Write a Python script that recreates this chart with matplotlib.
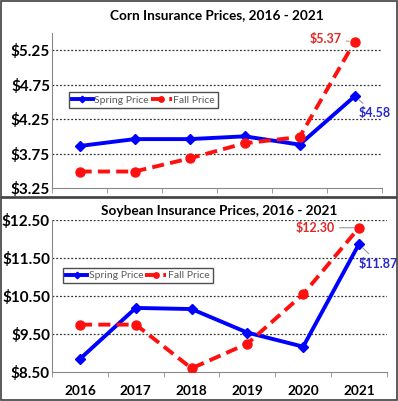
import matplotlib
matplotlib.use("Agg")
import matplotlib.pyplot as plt
from matplotlib.patches import Rectangle

years = ["2016", "2017", "2018", "2019", "2020", "2021"]
corn_spring = [3.86, 3.96, 3.96, 4.00, 3.88, 4.58]
corn_fall = [3.49, 3.49, 3.68, 3.90, 3.99, 5.37]
soy_spring = [8.85, 10.19, 10.16, 9.54, 9.17, 11.87]
soy_fall = [9.75, 9.75, 8.60, 9.25, 10.55, 12.30]
corn_ticks = [3.25, 3.75, 4.25, 4.75, 5.25]
soy_ticks = [8.50, 9.50, 10.50, 11.50, 12.50]

plt.rcParams['font.family'] = ['Lato', 'DejaVu Sans']

BLUE = "#0000FF"
RED = "#FF1010"

fig = plt.figure(figsize=(3.98, 4.01), dpi=100)
fig.patch.set_facecolor("white")

# panel borders
fig.patches.append(Rectangle((0.003, 0.508), 0.994, 0.489, transform=fig.transFigure,
                             fill=False, edgecolor="#404040", lw=1.2))
fig.patches.append(Rectangle((0.003, 0.003), 0.994, 0.503, transform=fig.transFigure,
                             fill=False, edgecolor="#404040", lw=1.2))

ax1 = fig.add_axes([0.131, 0.531, 0.829, 0.387])
ax2 = fig.add_axes([0.131, 0.072, 0.841, 0.379])

x = list(range(len(years)))

def style(ax, ticks, ylim, show_x):
    ax.set_xlim(-0.5, len(years) - 0.5)
    ax.set_ylim(*ylim)
    ax.set_yticks(ticks)
    ax.set_yticklabels([f"${t:.2f}" for t in ticks], fontweight="bold", fontsize=11)
    for t in ticks[1:]:
        ax.axhline(t, color="#333333", lw=0.9, ls=(0, (1.5, 1.5)), zorder=1)
    for s in ["top", "right"]:
        ax.spines[s].set_visible(False)
    ax.spines["left"].set_color("#888888")
    ax.spines["bottom"].set_color("#888888")
    ax.tick_params(axis="y", length=0, pad=1.5)
    ax.set_xticks([i - 0.5 for i in range(len(years) + 1)], minor=True)
    ax.tick_params(axis="x", which="minor", length=3.5, color="#888888")
    ax.set_xticks(x)
    ax.tick_params(axis="x", which="major", length=0, pad=9)
    if show_x:
        ax.set_xticklabels(years, fontweight="bold", fontsize=9.8)
    else:
        ax.set_xticklabels([])

style(ax1, corn_ticks, (3.25, 5.5), False)
style(ax2, soy_ticks, (8.5, 12.5), True)

for ax, sp, fa in [(ax1, corn_spring, corn_fall), (ax2, soy_spring, soy_fall)]:
    ax.plot(x, sp, color=BLUE, lw=2.8, marker="D", ms=5.5, label="Spring Price", zorder=3)
    ax.plot(x, fa, color=RED, lw=2.8, ls=(0, (3.1, 1.6)), marker="o", ms=6.5, label="Fall Price", zorder=3)

ax1.set_title("Corn Insurance Prices, 2016 - 2021", fontweight="bold", fontsize=9.8, pad=10)
ax2.set_title("Soybean Insurance Prices, 2016 - 2021", fontweight="bold", fontsize=9.8, pad=4)

leg_kw = dict(frameon=True, fancybox=False, edgecolor="#222222", fontsize=7.5,
              handlelength=2.0, handletextpad=0.15, columnspacing=0.2, ncol=2,
              borderpad=0.3, borderaxespad=0, markerscale=0.6, labelcolor="#595959")
l1 = ax1.legend(loc="center left", bbox_to_anchor=(0.05, 0.568), **leg_kw)
l2 = ax2.legend(loc="center left", bbox_to_anchor=(0.033, 0.635), **leg_kw)
for l in (l1, l2):
    l.get_frame().set_linewidth(1.0)

def lab(ax, xi, yi, text, color, dx, dy, ha):
    ax.annotate(text, xy=(xi, yi), xytext=(dx, dy), textcoords="offset points",
                color=color, fontweight="bold", fontsize=9, ha=ha, va="center",
                arrowprops=dict(arrowstyle="-", color="#999999", lw=0.8,
                                shrinkA=1, shrinkB=4))

lab(ax1, 5, corn_fall[5], f"${corn_fall[5]:.2f}", "#E02828", -9, 2, "right")
lab(ax1, 5, corn_spring[5], f"${corn_spring[5]:.2f}", "#2828C8", 3, -12, "left")
lab(ax2, 5, soy_fall[5], f"${soy_fall[5]:.2f}", "#E02828", -17, 0, "right")
lab(ax2, 5, soy_spring[5], f"${soy_spring[5]:.2f}", "#2828C8", 0, -14, "left")

fig.savefig("out.png", dpi=100, facecolor="white")
